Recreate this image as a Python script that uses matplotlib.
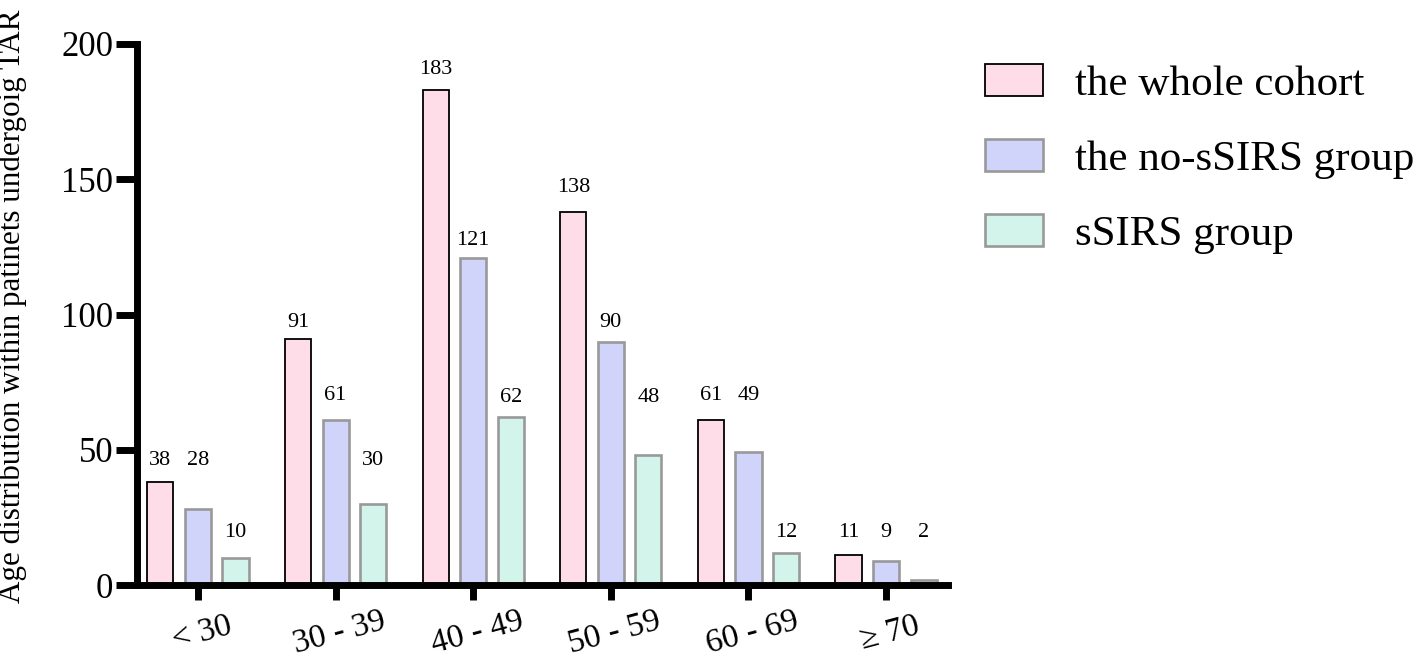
import matplotlib
matplotlib.use("Agg")
import matplotlib.pyplot as plt
import numpy as np

plt.rcParams['font.family'] = ['Liberation Serif', 'DejaVu Serif']

categories = ["< 30", "30 - 39", "40 - 49", "50 - 59", "60 - 69", "\u2265 70"]
series_names = ["the whole cohort", "the no-sSIRS group", "sSIRS group"]
whole = [38, 91, 183, 138, 61, 11]
no_ssirs = [28, 61, 121, 90, 49, 9]
ssirs = [10, 30, 62, 48, 12, 2]
yticks = [0, 50, 100, 150, 200]
ylabel = "Age distribution within patinets undergoig TAR"

# layout: vertical centre of each value label (in axis units), as placed in the original
label_pos = [
    [46, 97, 190.5, 147, 70, 19.5],
    [46, 70, 127.5, 97, 70, 19.5],
    [19.5, 46, 69.5, 69.5, 19.5, 19.5],
]

W, H = 1418, 661
fig = plt.figure(figsize=(W / 100, H / 100), dpi=100)
ax = fig.add_axes([137 / W, 1 - 585 / H, (948 - 137) / W, (585 - 44) / H])

fills = ["#FFDDE8", "#D0D4FA", "#D2F4EA"]
edges = ["#000000", "#999999", "#999999"]
lws = [1.3, 1.9, 1.9]
offsets = [-0.273, 0.0, 0.273]
width = 0.19
x = np.arange(len(categories))
series = [whole, no_ssirs, ssirs]
handles = []
for i, vals in enumerate(series):
    b = ax.bar(x + offsets[i], vals, width, color=fills[i], edgecolor=edges[i],
               linewidth=lws[i], label=series_names[i], zorder=2)
    handles.append(b)
    for xi, v, ly in zip(x, vals, label_pos[i]):
        ax.text(xi + offsets[i], ly, str(v), ha='center', va='center', fontsize=16)

ax.set_xlim(-0.443, 5.45)
ax.set_ylim(0, 200)
ax.set_yticks(yticks)
ax.set_yticklabels([str(t) for t in yticks], fontsize=25)
ax.set_xticks(x)
ax.set_xticklabels(categories, fontsize=24, rotation=15, rotation_mode='anchor', ha='center', va='top')
for s in ['top', 'right']:
    ax.spines[s].set_visible(False)
for s in ['left', 'bottom']:
    ax.spines[s].set_linewidth(5)
    ax.spines[s].set_capstyle('projecting')
ax.tick_params(axis='y', length=15, width=5, pad=2)
ax.tick_params(axis='x', length=11, width=5, pad=13)

fig.text(12 / W, 1 - 306 / H, ylabel, rotation=90, ha='center', va='center', fontsize=22.3)

leg = fig.legend(handles=handles, labels=series_names, loc='upper left',
                 bbox_to_anchor=(985 / W, 1 - 64 / H), frameon=False, fontsize=31,
                 handlelength=1.35, handleheight=0.77, handletextpad=0.74,
                 labelspacing=0.81, borderpad=0, borderaxespad=0)

fig.savefig("out.png", dpi=100)
